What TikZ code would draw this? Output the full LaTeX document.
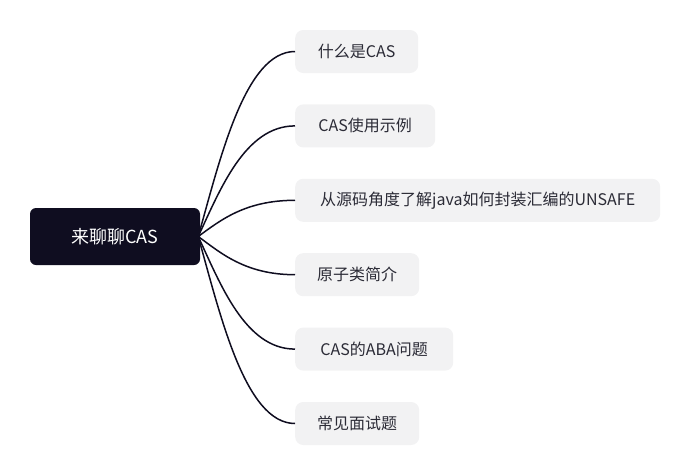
\documentclass[tikz,border=0pt]{standalone}
\usepackage{fontspec}
\setmainfont{Noto Sans CJK SC}
\usetikzlibrary{positioning}
\definecolor{mmnavy}{HTML}{0F0D20}
\definecolor{mmgrey}{HTML}{F2F2F3}
\definecolor{mmtext}{HTML}{2B2B36}
\tikzset{
  mroot/.style={fill=mmnavy, rounded corners=6pt, text=white, minimum width=170pt,
                minimum height=57pt, font=\fontsize{18pt}{20pt}\selectfont},
  msub/.style={fill=mmgrey, rounded corners=8pt, text=mmtext, minimum height=43pt,
               inner xsep=22pt, anchor=west, font=\fontsize{16pt}{18pt}\selectfont},
  mlink/.style={draw=mmnavy, line width=1.5pt},
}

\begin{document}
\begin{tikzpicture}[x=1pt, y=-1pt, node distance=31pt]
  \useasboundingbox (0,0) rectangle (691,474);
  \node[mroot] (root) at (115,236.5) {来聊聊CAS};
  \node[msub, minimum width=123pt] (t1) at (295,51.5) {什么是CAS};
  \node[msub, minimum width=140pt, below=of t1.south west, anchor=north west] (t2) {CAS使用示例};
  \node[msub, minimum width=365pt, below=of t2.south west, anchor=north west] (t3) {从源码角度了解java如何封装汇编的UNSAFE};
  \node[msub, minimum width=123pt, below=of t3.south west, anchor=north west] (t4) {原子类简介};
  \node[msub, minimum width=158pt, below=of t4.south west, anchor=north west] (t5) {CAS的ABA问题};
  \node[msub, minimum width=123pt, below=of t5.south west, anchor=north west] (t6) {常见面试题};
  % links
  \draw[mlink] ([xshift=-2pt]root.east) .. controls +(22,-78) and +(-50,0) .. (t1.west);
  \draw[mlink] ([xshift=-2pt]root.east) .. controls +(22,-47) and +(-50,0) .. (t2.west);
  \draw[mlink] ([xshift=-2pt]root.east) .. controls +(22,-16) and +(-50,0) .. (t3.west);
  \draw[mlink] ([xshift=-2pt]root.east) .. controls +(22,16) and +(-50,0) .. (t4.west);
  \draw[mlink] ([xshift=-2pt]root.east) .. controls +(22,47) and +(-50,0) .. (t5.west);
  \draw[mlink] ([xshift=-2pt]root.east) .. controls +(22,78) and +(-50,0) .. (t6.west);
\end{tikzpicture}
\end{document}
